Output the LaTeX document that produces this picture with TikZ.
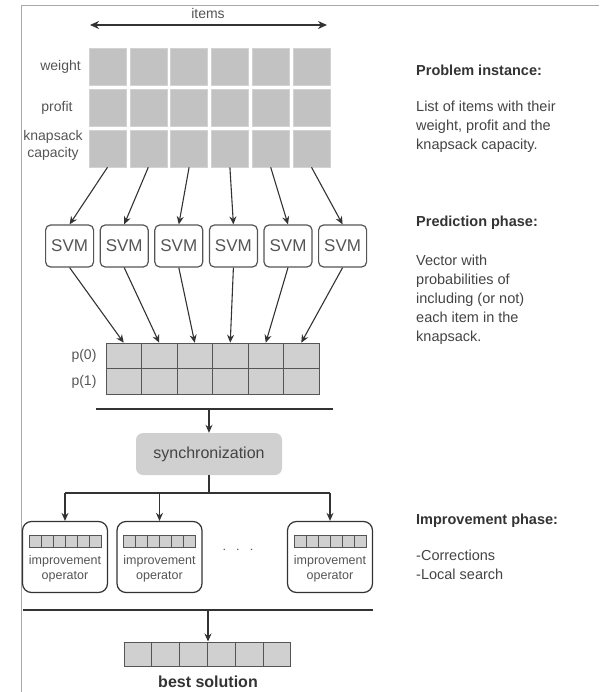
\documentclass[tikz,border=0pt]{standalone}
\usepackage{fontspec}
\setmainfont{Liberation Sans}
\usepackage{tikz}
\usetikzlibrary{calc,arrows.meta}
\definecolor{ink}{HTML}{333333}
\definecolor{txt}{HTML}{444444}
\definecolor{soft}{HTML}{555555}
\definecolor{cell}{HTML}{C2C2C2}
\definecolor{cellb}{HTML}{D2D2D2}
\definecolor{pcell}{HTML}{D0D0D0}
\definecolor{frame}{HTML}{8AADDC}
\tikzset{
  line/.style={draw=ink, line width=1.2pt},
  arr/.style={draw=ink, line width=1.1pt, -{Stealth[length=8pt,width=7pt]}},
  dblarr/.style={draw=ink, line width=1.8pt, {Stealth[length=9pt,width=8pt]}-{Stealth[length=9pt,width=8pt]}},
  gridcell/.style={rectangle, fill=cell, draw=cellb, line width=0.6pt, minimum width=37pt, minimum height=37pt, inner sep=0pt},
  pbox/.style={rectangle, fill=pcell, draw=soft, line width=1pt, minimum width=35.5pt, minimum height=25.5pt, inner sep=0pt},
  bestcell/.style={rectangle, fill=pcell, draw=soft, line width=1pt, minimum width=27.8pt, minimum height=24pt, inner sep=0pt},
  minicell/.style={rectangle, fill=pcell, draw=soft, line width=0.8pt, minimum width=12pt, minimum height=12pt, inner sep=0pt},
  svmbox/.style={rectangle, rounded corners=5pt, draw=soft, line width=1.2pt, fill=white, minimum width=48pt, minimum height=42pt, inner sep=0pt, text=soft, font=\fontsize{17}{17}\selectfont},
  syncbox/.style={rectangle, rounded corners=7pt, fill=pcell, minimum width=146pt, minimum height=42pt, inner sep=0pt, text=txt, font=\fontsize{16}{16}\selectfont},
  opbox/.style={rectangle, rounded corners=9pt, draw=ink, line width=1.2pt, fill=white, minimum width=85pt, minimum height=71pt, inner sep=0pt},
  optext/.style={text=soft, align=center, inner sep=0pt, font=\fontsize{12.5}{15}\selectfont},
  lbl/.style={text=soft, inner sep=0pt, font=\fontsize{14}{17}\selectfont},
  head/.style={text=ink, anchor=west, inner sep=0pt, font=\fontsize{14.5}{19}\selectfont\bfseries},
  body/.style={text=txt, anchor=north west, align=left, inner sep=0pt, font=\fontsize{14.5}{19}\selectfont}
}

\begin{document}
\begin{tikzpicture}[x=1pt, y=-1pt]
  \useasboundingbox (0,0) rectangle (599,692);
  \draw[frame, line width=1pt] (21,692) -- (21,6) -- (599,6);

  % items axis
  \coordinate (itemsL) at (90,25);
  \coordinate (itemsR) at (327,25);
  \draw[dblarr] (itemsL) -- (itemsR);
  \node[lbl] (items) at (208,14) {items};

  % problem instance grid
  \foreach \r in {1,2,3}
    \foreach \c in {1,...,6}
      \node[gridcell] (g-\r-\c) at (66.7+40.8*\c, 25.5+41*\r) {};
  \node[lbl, anchor=east] (wlbl) at (81,67) {weight};
  \node[lbl] (plbl) at (57,108) {profit};
  \node[lbl, align=center] (klbl) at (53,145) {knapsack\\capacity};

  % prediction
  \foreach \c in {1,...,6} {
    \node[svmbox] (svm\c) at (15+54.6*\c, 246) {SVM};
    \draw[arr] (g-3-\c.south) -- (svm\c.north);
  }
  \foreach \r/\py in {1/356, 2/381.5}
    \foreach \c in {1,...,6}
      \node[pbox] (p-\r-\c) at (88.25+35.5*\c, \py) {};
  \foreach \c in {1,...,6}
    \draw[arr] (svm\c.south) -- (p-1-\c.north);
  \node[lbl] (p0) at (84,356) {p(0)};
  \node[lbl] (p1) at (84,382) {p(1)};

  % synchronization
  \coordinate (barAL) at (96,409);
  \coordinate (barAR) at (333,409);
  \coordinate (barAM) at (209,409);
  \draw[line] (barAL) -- (barAR);
  \node[syncbox] (sync) at (209,454) {synchronization};
  \draw[arr] (barAM) -- (sync.north);

  % improvement operators
  \foreach \o/\ox in {1/65, 2/159.5, 3/330} {
    \node[opbox] (op\o) at (\ox,557) {};
    \foreach \k in {1,...,6}
      \node[minicell] (op\o-\k) at (\ox-42+12*\k, 541) {};
    \node[optext] (op\o-txt) at (\ox,569) {improvement\\operator};
  }
  \node[text=soft, font=\fontsize{14}{14}\selectfont] (dots) at (238,550) {$\cdot\;\,\cdot\;\,\cdot$};
  \coordinate (barBM) at (sync.south |- 0,493);
  \draw[line] (sync.south) -- (barBM);
  \draw[line] (op1.north |- barBM) -- (op3.north |- barBM);
  \foreach \o in {1,2,3}
    \draw[arr] (op\o.north |- barBM) -- (op\o.north);

  % best solution
  \coordinate (barCL) at (23,610);
  \coordinate (barCR) at (373,610);
  \coordinate (barCM) at (208,610);
  \draw[line] (barCL) -- (barCR);
  \foreach \k in {1,...,6}
    \node[bestcell] (best-\k) at (110.1+27.8*\k, 654) {};
  \draw[arr] (barCM) -- (barCM |- best-3.north);
  \node[text=ink, inner sep=0pt, font=\fontsize{16}{16}\selectfont\bfseries] (bestlbl) at (208,682) {best solution};

  % phase descriptions
  \node[head] (h1) at (416,70) {Problem instance:};
  \node[body] (b1) at (416,101) {List of items with their\\weight, profit and the\\knapsack capacity.};
  \node[head] (h2) at (416,223) {Prediction phase:};
  \node[body] (b2) at (416,255) {Vector with\\probabilities of\\including (or not)\\each item in the\\knapsack.};
  \node[head] (h3) at (416,521) {Improvement phase:};
  \node[body] (b3) at (416,550) {-Corrections\\-Local search};
\end{tikzpicture}
\end{document}
